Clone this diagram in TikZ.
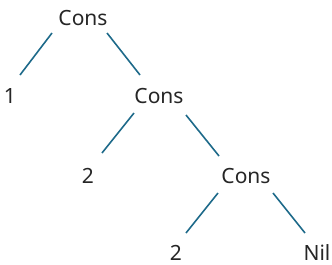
\documentclass[tikz,border=0pt]{standalone}
\usepackage{fontspec}
\setmainfont{Noto Sans}
\definecolor{edgeblue}{HTML}{1E6A8A}
\begin{document}
\begin{tikzpicture}[x=1pt,y=-1pt,
  lbl/.style={anchor=base,inner sep=0pt,font=\fontsize{21}{24}\selectfont,text=black!85},
  edge/.style={draw=edgeblue,line width=1.6pt}]
\useasboundingbox (0,0) rectangle (332,265);
\node[lbl] (c1) at (83,25) {Cons};
\node[lbl] (one) at (10,103) {1};
\node[lbl] (c2) at (159,103) {Cons};
\node[lbl] (two1) at (88,183) {2};
\node[lbl] (c3) at (246,183) {Cons};
\node[lbl] (two2) at (176,260) {2};
\node[lbl] (nil) at (317,260) {Nil};
\draw[edge] ([shift={(-31,8)}]c1.base) -- ([shift={(10,-28)}]one.base);
\draw[edge] ([shift={(24,8)}]c1.base) -- ([shift={(-19,-28)}]c2.base);
\draw[edge] ([shift={(-25,10)}]c2.base) -- ([shift={(14,-30)}]two1.base);
\draw[edge] ([shift={(27,12)}]c2.base) -- ([shift={(-27,-27)}]c3.base);
\draw[edge] ([shift={(-28,10)}]c3.base) -- ([shift={(10,-27)}]two2.base);
\draw[edge] ([shift={(27,10)}]c3.base) -- ([shift={(-12,-27)}]nil.base);
\end{tikzpicture}
\end{document}
